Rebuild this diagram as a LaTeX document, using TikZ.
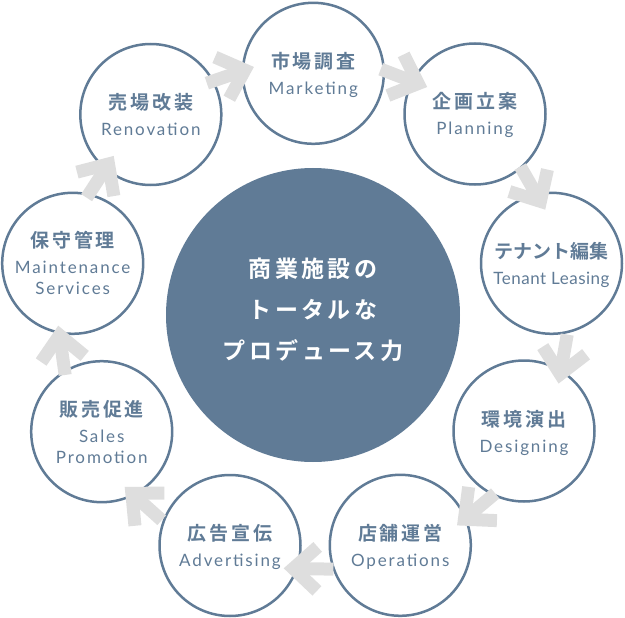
\documentclass[tikz,border=0pt]{standalone}
\usepackage{fontspec}
\usepackage{tikz}
\usetikzlibrary{arrows.meta,positioning,calc}
\definecolor{StageBlue}{RGB}{96,123,150}
\definecolor{FlowGray}{RGB}{222,222,222}
\newfontfamily\jpfont{Noto Sans CJK JP}[UprightFont=* Bold, LetterSpace=15]
\newfontfamily\enfont{Lato}[LetterSpace=11]
\newcommand{\jptxt}[1]{{\jpfont\fontsize{19}{21}\selectfont\rule{0pt}{21pt}#1}}
\newcommand{\enend}{\rule[-5pt]{0pt}{5pt}}

\begin{document}
\begin{tikzpicture}[x=1pt, y=1pt,
    stage/.style={circle, draw=StageBlue, line width=2.5pt, fill=white, minimum size=141pt, inner sep=0pt,
      text=StageBlue, align=center, font=\enfont\fontsize{17}{21}\selectfont},
    hubnode/.style={circle, fill=StageBlue, minimum size=294pt, inner sep=0pt},
    slogan/.style={text=white, align=center, font=\jpfont\fontsize{23}{41}\selectfont},
    flow/.style={FlowGray, line width=13pt, -{Straight Barb[length=24pt, width=44pt]}}]
  \useasboundingbox (0,0) rectangle (625,-618);
  \node[hubnode] (hub) at (313,-315) {};
  \node[slogan] (hubtxt) at ([yshift=5]hub.center) {商業施設の\\トータルな\\プロデュース力};
  % stages, clockwise from the top
  \node[stage] (market) at (313.3,-73.3) {\jptxt{市場調査}\\[5pt]Marketing\enend};
  \node[stage] (plan) at (475,-114) {\jptxt{企画立案}\\[5pt]Planning\enend};
  \node[stage] (tenant) at (551.5,-263.3) {\jptxt{\addfontfeature{LetterSpace=0}テナント編集}\\[5pt]{\addfontfeature{LetterSpace=3}Tenant Leasing}\enend};
  \node[stage] (design) at (524,-431) {\jptxt{環境演出}\\[5pt]Designing\enend};
  \node[stage] (ops) at (400.3,-545.3) {\jptxt{店舗運営}\\[5pt]Operations\enend};
  \node[stage] (adv) at (230,-545.5) {\jptxt{広告宣伝}\\[5pt]Advertising\enend};
  \node[stage] (sales) at (101.7,-431.7) {\jptxt{販売促進}\\[5pt]Sales\\Promotion\enend};
  \node[stage] (maint) at (72.7,-263.3) {\jptxt{保守管理}\\[5pt]Maintenance\\Services\enend};
  \node[stage] (renov) at (150.8,-114.5) {\jptxt{売場改装}\\[5pt]Renovation\enend};
  % flow arrows on the ring round the hub
  \draw[flow] ([shift={(114.6:255)}]hub.center) -- ([shift={(103.4:255)}]hub.center);
  \draw[flow] ([shift={(74.6:255)}]hub.center) -- ([shift={(63.4:255)}]hub.center);
  \draw[flow] ([shift={(35.6:255)}]hub.center) -- ([shift={(24.4:255)}]hub.center);
  \draw[flow] ([shift={(-4.4:255)}]hub.center) -- ([shift={(-15.6:255)}]hub.center);
  \draw[flow] ([shift={(-44.4:255)}]hub.center) -- ([shift={(-55.6:255)}]hub.center);
  \draw[flow] ([shift={(-85.4:255)}]hub.center) -- ([shift={(-96.6:255)}]hub.center);
  \draw[flow] ([shift={(-126.4:255)}]hub.center) -- ([shift={(-137.6:255)}]hub.center);
  \draw[flow] ([shift={(-166.4:255)}]hub.center) -- ([shift={(-177.6:255)}]hub.center);
  \draw[flow] ([shift={(152.6:255)}]hub.center) -- ([shift={(141.4:255)}]hub.center);
\end{tikzpicture}
\end{document}
